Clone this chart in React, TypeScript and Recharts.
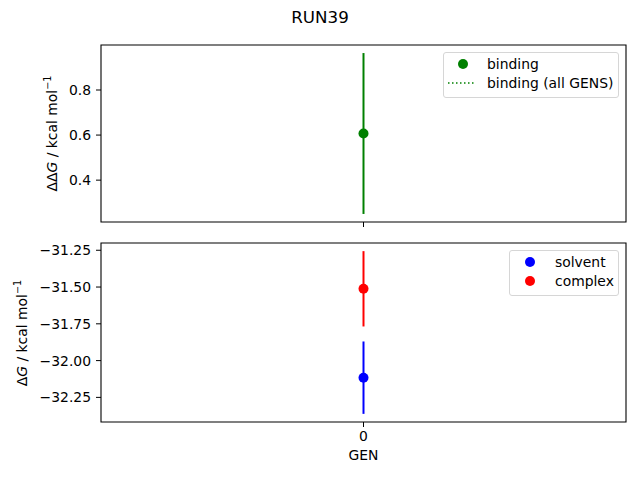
import { ScatterChart, Scatter, XAxis, YAxis, ErrorBar, ReferenceArea, Legend } from 'recharts';

// Values (one generation, GEN 0)
const gens = [0];
const bindingValues = [0.607];
const bindingErrors = [0.357];
const solventValues = [-32.116];
const solventErrors = [0.246];
const complexValues = [-31.512];
const complexErrors = [0.256];

const topTicks = [0.4, 0.6, 0.8];
const bottomTicks = [-32.25, -32.0, -31.75, -31.5, -31.25];
const xTicks = [0];

const FONT = '"DejaVu Sans", sans-serif';
const GREEN = '#008000';
const BLUE = '#0000ff';
const RED = '#ff0000';

function rows(values: number[], errors: number[]) {
  return gens.map((g, i) => ({ x: g, y: values[i], err: errors[i] }));
}

// matplotlib style autoscale: data range incl. error bars, 5% margin each side
function padded(sets: { values: number[]; errors: number[] }[]): [number, number] {
  let lo = Infinity;
  let hi = -Infinity;
  sets.forEach(s => s.values.forEach((v, i) => {
    lo = Math.min(lo, v - s.errors[i]);
    hi = Math.max(hi, v + s.errors[i]);
  }));
  const pad = (hi - lo) * 0.05;
  return [lo - pad, hi + pad];
}

const fmt = (v: number, digits: number) => v.toFixed(digits).replace('-', '\u2212');

const dot = (color: string) => (props: any) => (
  <circle cx={props.cx} cy={props.cy} r={5} fill={color} />
);

function YLabel({ x, y, prefix }: { x: number; y: number; prefix: string }) {
  return (
    <text x={x} y={y} transform={`rotate(-90 ${x} ${y})`} textAnchor="middle" dominantBaseline="central"
      fontFamily={FONT} fontSize={13.9} fill="#000">
      {prefix}<tspan fontStyle="italic">G</tspan> / kcal mol<tspan dy={-5} fontSize={9.7}>{'\u2212'}1</tspan>
    </text>
  );
}

interface LegendItem { label: string; color: string; kind: 'dot' | 'dotted' }

function LegendBox({ items, markerX, textX, width }: { items: LegendItem[]; markerX: number; textX: number; width: number }) {
  return (
    <div style={{
      width, height: 46, boxSizing: 'border-box', border: '1px solid #d6d6d6', borderRadius: 3,
      background: 'rgba(255,255,255,0.8)', position: 'relative', fontFamily: FONT, fontSize: 13.9, color: '#000',
    }}>
      {items.map((it, i) => {
        const cy = 11 + i * 19.4;
        return (
          <div key={it.label}>
            <svg width={40} height={12} style={{ position: 'absolute', left: markerX - 20, top: cy - 6 }}>
              {it.kind === 'dot'
                ? <circle cx={20} cy={6} r={5} fill={it.color} />
                : <line x1={5} x2={32} y1={6} y2={6} stroke={it.color} strokeWidth={1.5} strokeDasharray="1.5 2.5" />}
            </svg>
            <span style={{ position: 'absolute', left: textX, top: cy - 9, lineHeight: '18px', whiteSpace: 'nowrap' }}>{it.label}</span>
          </div>
        );
      })}
    </div>
  );
}

export default function App() {
  const topDomain = padded([{ values: bindingValues, errors: bindingErrors }]);
  const bottomDomain = padded([
    { values: solventValues, errors: solventErrors },
    { values: complexValues, errors: complexErrors },
  ]);
  const xDomain: [number, number] = [-1, 1];
  const tickStyle = { fontFamily: FONT, fontSize: 13.9, fill: '#000' };
  const barStyle = { strokeWidth: 2 };

  return (
    <div style={{ position: 'absolute', left: 0, top: 0, width: 640, height: 480, background: '#fff' }}>
      <div style={{
        position: 'absolute', left: 0, width: 640, top: 7, textAlign: 'center',
        fontFamily: FONT, fontSize: 16.7, color: '#000',
      }}>RUN39</div>

      <div style={{ position: 'absolute', left: 0, top: 0 }}>
        <ScatterChart width={640} height={230} margin={{ top: 45, right: 14, bottom: 0, left: 41 }}>
          <XAxis type="number" dataKey="x" domain={xDomain} ticks={xTicks} height={8}
            tickFormatter={() => ''} tickSize={5} axisLine={false} tickLine={{ stroke: '#000' }} />
          <YAxis type="number" dataKey="y" domain={topDomain} ticks={topTicks} allowDataOverflow width={60}
            tickFormatter={(v: number) => fmt(v, 1)} tick={tickStyle} tickSize={5} tickMargin={5}
            axisLine={false} tickLine={{ stroke: '#000' }} />
          <ReferenceArea x1={xDomain[0]} x2={xDomain[1]} y1={topDomain[0]} y2={topDomain[1]}
            fill="none" stroke="#000" strokeWidth={1.1} ifOverflow="visible" />
          <Scatter name="binding" data={rows(bindingValues, bindingErrors)} fill={GREEN}
            shape={dot(GREEN)} isAnimationActive={false}>
            <ErrorBar dataKey="err" direction="y" width={0} stroke={GREEN} strokeWidth={2} style={barStyle} isAnimationActive={false} />
          </Scatter>
          <Legend layout="vertical" align="center" verticalAlign="middle"
            wrapperStyle={{ left: 443, top: 52, width: 176 }}
            content={() => (
              <LegendBox width={176} markerX={19} textX={43} items={[
                { label: 'binding', color: GREEN, kind: 'dot' },
                { label: 'binding (all GENS)', color: GREEN, kind: 'dotted' },
              ]} />
            )} />
          <YLabel x={52} y={133.5} prefix={'\u0394\u0394'} />
        </ScatterChart>
      </div>

      <div style={{ position: 'absolute', left: 0, top: 230 }}>
        <ScatterChart width={640} height={250} margin={{ top: 13, right: 14, bottom: 0, left: 41 }}>
          <XAxis type="number" dataKey="x" domain={xDomain} ticks={xTicks} height={58}
            tick={tickStyle} tickSize={5} tickMargin={4} axisLine={false} tickLine={{ stroke: '#000' }}
            label={{ value: 'GEN', position: 'insideBottom', offset: 20, style: tickStyle }} />
          <YAxis type="number" dataKey="y" domain={bottomDomain} ticks={bottomTicks} allowDataOverflow width={60}
            tickFormatter={(v: number) => fmt(v, 2)} tick={tickStyle} tickSize={5} tickMargin={5}
            axisLine={false} tickLine={{ stroke: '#000' }} />
          <ReferenceArea x1={xDomain[0]} x2={xDomain[1]} y1={bottomDomain[0]} y2={bottomDomain[1]}
            fill="none" stroke="#000" strokeWidth={1.1} ifOverflow="visible" />
          <Scatter name="solvent" data={rows(solventValues, solventErrors)} fill={BLUE}
            shape={dot(BLUE)} isAnimationActive={false}>
            <ErrorBar dataKey="err" direction="y" width={0} stroke={BLUE} strokeWidth={2} style={barStyle} isAnimationActive={false} />
          </Scatter>
          <Scatter name="complex" data={rows(complexValues, complexErrors)} fill={RED}
            shape={dot(RED)} isAnimationActive={false}>
            <ErrorBar dataKey="err" direction="y" width={0} stroke={RED} strokeWidth={2} style={barStyle} isAnimationActive={false} />
          </Scatter>
          <Legend layout="vertical" align="center" verticalAlign="middle"
            wrapperStyle={{ left: 509, top: 20, width: 110 }}
            content={() => (
              <LegendBox width={110} markerX={20} textX={45} items={[
                { label: 'solvent', color: BLUE, kind: 'dot' },
                { label: 'complex', color: RED, kind: 'dot' },
              ]} />
            )} />
          <YLabel x={22} y={103} prefix={'\u0394'} />
        </ScatterChart>
      </div>
    </div>
  );
}
